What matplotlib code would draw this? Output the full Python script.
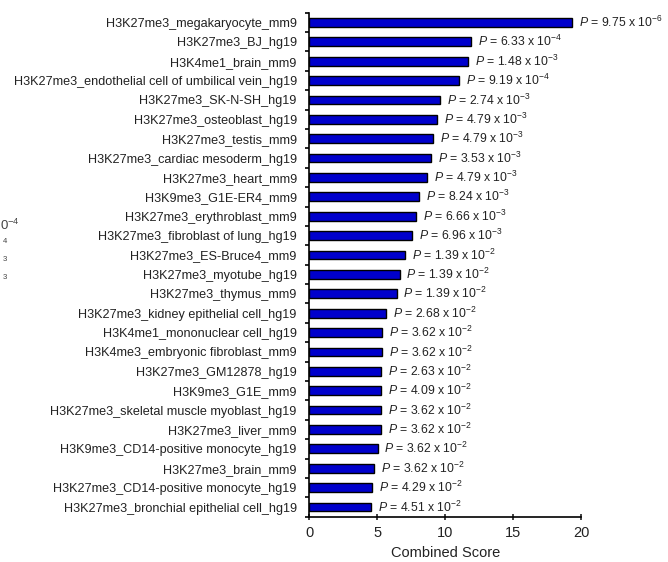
"""Enrichment of histone-mark gene sets: combined score bar chart."""

import math

import matplotlib

matplotlib.use("Agg")
import matplotlib.pyplot as plt

plt.rcParams["font.family"] = ["Liberation Sans", "DejaVu Sans"]
plt.rcParams["mathtext.fontset"] = "custom"
plt.rcParams["mathtext.rm"] = "Liberation Sans"
plt.rcParams["mathtext.it"] = "Liberation Sans:italic"

terms = [
    "H3K27me3_megakaryocyte_mm9",
    "H3K27me3_BJ_hg19",
    "H3K4me1_brain_mm9",
    "H3K27me3_endothelial cell of umbilical vein_hg19",
    "H3K27me3_SK-N-SH_hg19",
    "H3K27me3_osteoblast_hg19",
    "H3K27me3_testis_mm9",
    "H3K27me3_cardiac mesoderm_hg19",
    "H3K27me3_heart_mm9",
    "H3K9me3_G1E-ER4_mm9",
    "H3K27me3_erythroblast_mm9",
    "H3K27me3_fibroblast of lung_hg19",
    "H3K27me3_ES-Bruce4_mm9",
    "H3K27me3_myotube_hg19",
    "H3K27me3_thymus_mm9",
    "H3K27me3_kidney epithelial cell_hg19",
    "H3K4me1_mononuclear cell_hg19",
    "H3K4me3_embryonic fibroblast_mm9",
    "H3K27me3_GM12878_hg19",
    "H3K9me3_G1E_mm9",
    "H3K27me3_skeletal muscle myoblast_hg19",
    "H3K27me3_liver_mm9",
    "H3K9me3_CD14-positive monocyte_hg19",
    "H3K27me3_brain_mm9",
    "H3K27me3_CD14-positive monocyte_hg19",
    "H3K27me3_bronchial epithelial cell_hg19",
]

combined_score = [
    19.32, 11.88, 11.69, 11.00, 9.65, 9.43, 9.11, 8.99, 8.67, 8.08,
    7.86, 7.56, 7.07, 6.65, 6.43, 5.65, 5.38, 5.33, 5.26, 5.26,
    5.26, 5.26, 5.03, 4.77, 4.64, 4.54,
]

p_values = [
    9.75e-6, 6.33e-4, 1.48e-3, 9.19e-4, 2.74e-3, 4.79e-3, 4.79e-3, 3.53e-3,
    4.79e-3, 8.24e-3, 6.66e-3, 6.96e-3, 1.39e-2, 1.39e-2, 1.39e-2, 2.68e-2,
    3.62e-2, 3.62e-2, 2.63e-2, 4.09e-2, 3.62e-2, 3.62e-2, 3.62e-2, 3.62e-2,
    4.29e-2, 4.51e-2,
]

# leftover fragments of a neighbouring panel, cut at the left edge
fragments = [r"0$^{-4}$", r"$^{4}$", r"$^{3}$", r"$^{3}$"]


def p_label(p: float) -> str:
    exp = math.floor(math.log10(p))
    mant = p / 10**exp
    return rf"$\it{{P}}$ = {mant:.2f} x 10$^{{{exp}}}$"


fig = plt.figure(figsize=(6.68, 5.62), dpi=100)
ax = fig.add_axes([0.463, 0.0806, 0.407, 0.8968])

pos = list(range(len(terms)))
ax.barh(pos, combined_score, height=0.45, color="#0000CC",
        edgecolor="black", linewidth=1.0)

for y, score, p in zip(pos, combined_score, p_values):
    ax.text(score + 0.5, y, p_label(p), va="center", ha="left",
            fontsize=8.8, color="#222222")

ax.set_ylim(len(terms) - 0.5, -0.5)
ax.set_xlim(0, 20)
ax.set_xticks([0, 5, 10, 15, 20])
ax.set_yticks(pos)
ax.set_yticklabels(terms, fontsize=9.05, color="#222222")
ax.set_yticks([i - 0.5 for i in range(len(terms) + 1)], minor=True)
ax.tick_params(axis="y", which="major", length=0, pad=9)
ax.tick_params(axis="y", which="minor", length=3, width=1.2, direction="out")
ax.tick_params(axis="x", length=4, width=1.2, direction="inout",
               labelsize=10.5, colors="#222222", pad=5)
ax.set_xlabel("Combined Score", fontsize=10.5, color="#222222", labelpad=4)

for side in ("top", "right"):
    ax.spines[side].set_visible(False)
for side in ("left", "bottom"):
    ax.spines[side].set_linewidth(1.2)

for i, frag in enumerate(fragments):
    fig.text(0.0 if i == 0 else 0.003, 1 - (225 + 18 * i) / 562, frag,
             fontsize=9.5 if i == 0 else 8, color="#444444",
             va="center", ha="left")

fig.savefig("out.png", dpi=100)
